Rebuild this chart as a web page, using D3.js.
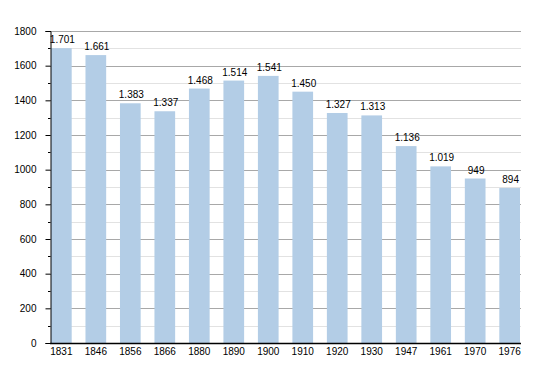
<!DOCTYPE html>
<html><head><meta charset="utf-8">
<script src="https://cdn.jsdelivr.net/npm/d3@7"></script>
<style>body{margin:0;background:#fff}svg{display:block}text{font-family:"Liberation Sans",Arial,sans-serif;font-size:10px;fill:#000}</style>
</head><body><svg id="c" width="550" height="373"></svg>
<script>
const years = ["1831","1846","1856","1866","1880","1890","1900","1910","1920","1930","1947","1961","1970","1976"];
const population = [1701,1661,1383,1337,1468,1514,1541,1450,1327,1313,1136,1019,949,894];
const yTicks = [0,200,400,600,800,1000,1200,1400,1600,1800];
const yMinor = [100,300,500,700,900,1100,1300,1500,1700];

(function(){
const svg = d3.select("#c");
const pLeft = 50, pRight = 521, pTop = 31, pBottom = 343;
const FONT = '"Liberation Sans",Arial,sans-serif';
const y = d3.scaleLinear().domain([0,1800]).range([pBottom, pTop]);
const x = d3.scaleBand().domain(years).range([51,520]).paddingInner(0.4).paddingOuter(0);

// minor grid
svg.append("g").selectAll("line").data(yMinor).join("line")
  .attr("x1", pLeft).attr("x2", pRight)
  .attr("y1", d => Math.round(y(d))+0.5).attr("y2", d => Math.round(y(d))+0.5)
  .attr("stroke", "#e2e2e2").attr("stroke-width", 1);
// major grid
svg.append("g").selectAll("line").data(yTicks.filter(d=>d>0)).join("line")
  .attr("x1", pLeft).attr("x2", pRight)
  .attr("y1", d => Math.round(y(d))+0.5).attr("y2", d => Math.round(y(d))+0.5)
  .attr("stroke", "#a8a8a8").attr("stroke-width", 1);

// bars
svg.append("g").selectAll("rect").data(population).join("rect")
  .attr("x", (d,i) => x(years[i])).attr("width", x.bandwidth())
  .attr("y", d => y(d)).attr("height", d => pBottom - y(d))
  .attr("fill", "#b3cde6");

// value labels
const fmt = v => v >= 1000 ? d3.format(",")(v).replace(",", ".") : String(v);
svg.append("g").selectAll("text").data(population).join("text")
  .attr("x", (d,i) => x(years[i]) + x.bandwidth()/2 + 1)
  .attr("y", d => y(d) - 5)
  .attr("text-anchor", "middle")
  .text(fmt);

// y axis
const yAxis = d3.axisLeft(y).tickValues(yTicks).tickSize(5).tickPadding(9).tickFormat(d3.format("d"));
const ga = svg.append("g").attr("transform", `translate(${pLeft+0.5},0)`).call(yAxis);
ga.select(".domain").attr("stroke", "#000");
ga.selectAll(".tick line").attr("stroke", "#000");
ga.selectAll("text").style("font-size","10px").attr("fill","#000").style("font-family",FONT);
// minor ticks
svg.append("g").selectAll("line").data(yMinor).join("line")
  .attr("x1", pLeft-2).attr("x2", pLeft+0.5)
  .attr("y1", d => Math.round(y(d))+0.5).attr("y2", d => Math.round(y(d))+0.5)
  .attr("stroke", "#000");

// x axis
const xAxis = d3.axisBottom(x).tickSize(0).tickPadding(4.5);
const gx = svg.append("g").attr("transform", `translate(0,${pBottom+0.5})`).call(xAxis);
gx.select(".domain").attr("d", `M${pLeft},0H${pRight}`).attr("stroke", "#000").attr("stroke-width", 1.5);
gx.selectAll("text").style("font-size","10px").attr("fill","#000").style("font-family",FONT);
})();
</script></body></html>
